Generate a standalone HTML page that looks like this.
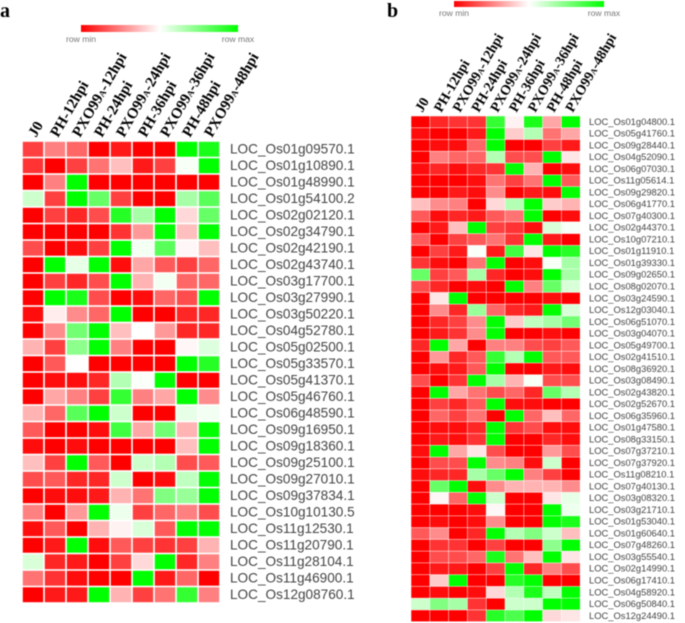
<!DOCTYPE html>
<html lang="en">
<head>
<meta charset="utf-8">
<title>Heatmaps</title>
<style>
html,body{margin:0;padding:0;background:#fff;}
body{width:685px;height:623px;overflow:hidden;}
svg{display:block;filter:blur(0.4px);}
.gene{font-family:"Liberation Sans",sans-serif;fill:#444;}
.col{font-family:"Liberation Serif",serif;font-weight:bold;fill:#000;}
.panel{font-family:"Liberation Serif",serif;font-weight:bold;fill:#000;font-size:20px;}
.leg{font-family:"Liberation Sans",sans-serif;fill:#777;font-size:8.6px;}
</style>
</head>
<body>
<svg id="chart" xmlns="http://www.w3.org/2000/svg" width="685" height="623" viewBox="0 0 685 623">
  <defs>
    <linearGradient id="legendGrad" x1="0" x2="1" y1="0" y2="0">
      <stop offset="0" stop-color="#ff0000"/>
      <stop offset="0.5" stop-color="#ffffff"/>
      <stop offset="1" stop-color="#00ff00"/>
    </linearGradient>
  </defs>
  <text class="panel" x="0" y="17">a</text>
  <text class="panel" x="387" y="17">b</text>

  <rect x="81" y="25" width="157" height="7" fill="url(#legendGrad)"/>
  <text class="leg" x="81" y="42" text-anchor="middle">row min</text>
  <text class="leg" x="238" y="42" text-anchor="middle">row max</text>

  <rect x="454" y="1" width="150" height="6" fill="url(#legendGrad)"/>
  <text class="leg" x="454" y="16" text-anchor="middle">row min</text>
  <text class="leg" x="604" y="16" text-anchor="middle">row max</text>
</svg>
<script>
const columnLabels = ["J0","PH-12hpi","PXO99|A|-12hpi","PH-24hpi","PXO99|A|-24hpi","PH-36hpi","PXO99|A|-36hpi","PH-48hpi","PXO99|A|-48hpi"];

const genesA = ["LOC_Os01g09570.1","LOC_Os01g10890.1","LOC_Os01g48990.1","LOC_Os01g54100.2","LOC_Os02g02120.1","LOC_Os02g34790.1","LOC_Os02g42190.1","LOC_Os02g43740.1","LOC_Os03g17700.1","LOC_Os03g27990.1","LOC_Os03g50220.1","LOC_Os04g52780.1","LOC_Os05g02500.1","LOC_Os05g33570.1","LOC_Os05g41370.1","LOC_Os05g46760.1","LOC_Os06g48590.1","LOC_Os09g16950.1","LOC_Os09g18360.1","LOC_Os09g25100.1","LOC_Os09g27010.1","LOC_Os09g37834.1","LOC_Os10g10130.5","LOC_Os11g12530.1","LOC_Os11g20790.1","LOC_Os11g28104.1","LOC_Os11g46900.1","LOC_Os12g08760.1"];

const valuesA = [
[-7.5,-5,-6,-10,-9,-10,-10,10,9],
[-8,-10,-7.5,-5.5,-2.5,-9,-7.5,0.3,10],
[-10,-5,10,-10,-10,-10,-10,-10,-10],
[2,-7.5,10,6,-7.5,-10,-10,3.5,6.5],
[-10,-7.5,-8.5,-7,8.5,3.5,10,-1.5,6],
[-10,-10,-10,-10,-8,-4,10,-2.5,10],
[-7,-10,-9.5,-7.5,10,0.5,6.5,-0.3,-2.5],
[-10,10,1,10,-9.5,-3.5,-6.5,-7.5,-6],
[-10,-7.5,-8.5,-7,10,-3,0.5,-6,-6],
[-10,10,9,-7,-10,-9.5,-6,-7,10],
[-9.5,-0.7,-4.5,-6,10,-10,-10,-8.5,-8.5],
[-10,-4.5,5.5,10,-2.5,0,-4,-8.5,-8.5],
[-3,-7.5,4.5,10,-5,-10,-10,-0.3,1.3],
[-10,-6.5,0,-10,-10,-10,-10,10,8.5],
[-10,-9.5,-9.5,-8.5,3,0.2,10,-10,-10],
[-10,-3.5,-5,-7.5,8,-5,-3.5,10,-4.5],
[-3,-6,6.5,10,2,-10,-10,1,0.5],
[-6.5,-10,-10,-9.5,7.5,-3.5,5.5,-3,10],
[-9.5,-10,-9.5,-10,-10,-10,-10,-2.5,10],
[-2.5,-7.5,10,-6.5,-10,2,3,-7,-6.5],
[-7,-6.5,-8.5,-8.5,2,-10,-9.5,2.5,10],
[-10,-9.5,-9.5,-9,-3,-5.5,5,4,10],
[-5,-10,-4,10,0.7,-7.5,-6,-5,-7],
[-9.5,-6.5,-10,-3,-0.5,1.5,-6.5,10,10],
[-10,-9,10,-9.5,-6.5,-7.5,-8,-7.5,-3],
[1.5,-8.5,-9,-10,-7.5,-1.5,10,-8.5,-5],
[-5.5,-8,-9.5,-10,-10,10,-9,-6,-10],
[-10,-9,-9,10,-3,-7.5,-5.5,8,-5]
];

const genesB = ["LOC_Os01g04800.1","LOC_Os05g41760.1","LOC_Os09g28440.1","LOC_Os04g52090.1","LOC_Os06g07030.1","LOC_Os11g05614.1","LOC_Os09g29820.1","LOC_Os06g41770.1","LOC_Os07g40300.1","LOC_Os02g44370.1","LOC_Os10g07210.1","LOC_Os01g11910.1","LOC_Os01g39330.1","LOC_Os09g02650.1","LOC_Os08g02070.1","LOC_Os03g24590.1","LOC_Os12g03040.1","LOC_Os06g51070.1","LOC_Os03g04070.1","LOC_Os05g49700.1","LOC_Os02g41510.1","LOC_Os08g36920.1","LOC_Os03g08490.1","LOC_Os02g43820.1","LOC_Os02g52670.1","LOC_Os06g35960.1","LOC_Os01g47580.1","LOC_Os08g33150.1","LOC_Os07g37210.1","LOC_Os07g37920.1","LOC_Os11g08210.1","LOC_Os07g40130.1","LOC_Os03g08320.1","LOC_Os03g21710.1","LOC_Os01g53040.1","LOC_Os01g60640.1","LOC_Os07g48260.1","LOC_Os03g55540.1","LOC_Os02g14990.1","LOC_Os06g17410.1","LOC_Os04g58920.1","LOC_Os06g50840.1","LOC_Os12g24490.1"];

const valuesB = [
[-10,-8.5,-8,-8,8,-0.5,9,-3.5,10],
[-9.5,-10,-10,-9,10,-2,3,-5.5,-3.5],
[-10,-9.5,-9.5,-6,10,-10,-10,-7.5,-9],
[-10,-5,-6,-6,3,-7,-7,10,-1],
[-9.5,-8.5,-9.5,-8.5,-8,10,-3,-10,-9.5],
[-10,-10,-10,-9.5,-5.5,-7.5,-5.5,10,-6.5],
[-10,-10,-9,-9.5,-4.5,-10,-9,-9.5,10],
[-2.5,-4.5,-5,-10,-1.5,3,10,-2,-3],
[-6.5,-9.5,-8.5,-9,-6.5,-5.5,10,-10,-9.5],
[-10,-9,-2.5,10,-7.5,-8,-9.5,1.5,0.3],
[-6.5,-10,-7.5,-6.5,-5.5,-8,10,-9,-10],
[-10,-7.5,-9,0.2,-9,7.5,-1,10,8.5],
[-8,-9.5,-10,-5.5,10,-10,-9.5,0.3,3.5],
[6,-7.5,-6.5,3.5,-8.5,-10,-9.5,10,3.5],
[-7,-8.5,-10,-9.5,-10,10,-5,6,1.5],
[-10,-1,10,-10,-10,-10,-10,-9.5,-10],
[-10,-4.5,-8.5,4,-6,-8.5,-9,10,1.5],
[-10,-8.5,-7.5,-4.5,10,-2,2.5,3.5,5.5],
[-10,-9,-8,-4.5,10,-10,-10,-9.5,-10],
[-8.5,10,-3.5,-10,-5,-5,-7,-7.5,-6.5],
[-10,-4,-8.5,-6.5,8,3,10,-6.5,-6.5],
[-10,-9.5,-9,-6.5,10,-10,-10,-9,-9.5],
[-7,-10,-8,10,3.5,-3,0.3,-7,-7],
[-10,10,-3.5,-5.5,-7,-6,-8.5,6,3],
[-10,-7.5,-8.5,-6.5,10,-9.5,-9.5,-10,-10],
[-10,-6,-7.5,-5.5,-10,10,-6,-2.5,-6],
[-10,-9.5,-9.5,-8.5,10,-8,-7,-9.5,-9.5],
[-10,-9,-9.5,-8,10,-10,-10,-8.5,-9.5],
[-9.5,10,-3.5,-1,-7,-10,-10,-4,-7],
[-10,-7,-7,10,-4.5,-5,-9.5,2,-10],
[-9.5,-8.5,-8.5,3.5,6,10,-5,-7.5,-10],
[-10,6,10,-9.5,-4.5,-3,-3,-3,-4.5],
[-10,-0.3,-6,10,2,-10,-10,-1,1],
[-10,-10,-10,-9.5,-0.3,-10,-10,10,0.7],
[-10,-9.5,-10,-9.5,-4.5,-10,-10,10,9],
[-6.5,-4.5,-10,-8.5,10,3,5,2,-2.5],
[-10,-8,-8,-10,-7.5,-10,-10,4.5,10],
[-10,-7,-7,-6,9,-5.5,-2.5,10,-1],
[-10,-9,-9,-10,-7.5,10,-8.5,-5,-7],
[-10,-2,10,-10,-10,8.5,10,-10,-10],
[-10,-9.5,-10,-9.5,-1.5,3,9,2.5,10],
[2,5,3.5,-8,-10,2,2,10,10],
[-10,-10,-10,-8,8.5,7,10,-1.5,-1]
];

const SVG_NS = "http://www.w3.org/2000/svg";
const svg = document.getElementById("chart");

function colorScale(v){
  const t = Math.max(-1, Math.min(1, v / 10));
  if (t < 0) {
    const c = Math.round(255 * (1 + t));
    return "rgb(255," + c + "," + c + ")";
  }
  const c = Math.round(255 * (1 - t));
  return "rgb(" + c + ",255," + c + ")";
}

function drawHeatmap(opt, genes, values, cols){
  const xScale = function(i){ return opt.x0 + i * opt.cw; };
  const yScale = function(r){ return opt.y0 + r * opt.ch; };

  const group = document.createElementNS(SVG_NS, "g");
  
  
  svg.appendChild(group);

  values.forEach(function(row, r){
    row.forEach(function(v, c){
      const cell = document.createElementNS(SVG_NS, "rect");
      
      
      cell.setAttribute("x", xScale(c) + opt.gap / 2);
      cell.setAttribute("y", yScale(r) + opt.gap / 2);
      cell.setAttribute("width", opt.cw - opt.gap);
      cell.setAttribute("height", opt.ch - opt.gap);
      cell.setAttribute("fill", colorScale(v));
      group.appendChild(cell);
    });
  });

  genes.forEach(function(g, r){
    const t = document.createElementNS(SVG_NS, "text");
    
    
    t.setAttribute("class", "gene");
    t.setAttribute("x", opt.labelX);
    t.setAttribute("y", yScale(r) + opt.ch / 2 + opt.geneFont * 0.36 + opt.geneDy);
    t.setAttribute("font-size", opt.geneFont);
    t.textContent = g;
    svg.appendChild(t);
  });

  cols.forEach(function(label, c){
    const t = document.createElementNS(SVG_NS, "text");
    
    
    t.setAttribute("class", "col");
    t.setAttribute("font-size", opt.colFont);
    const bx = xScale(c) + opt.cw / 2 + opt.colDx;
    t.setAttribute("transform", "translate(" + bx + "," + opt.colY + ") rotate(-60)");
    label.split("|").forEach(function(part, i){
      const s = document.createElementNS(SVG_NS, "tspan");
      if (i === 1) { s.setAttribute("font-size", opt.colFont * 0.6); }
      s.textContent = part;
      t.appendChild(s);
    });
    svg.appendChild(t);
  });
}

drawHeatmap({name:"panel-a", x0:22, y0:141, cw:22, ch:16.5, gap:1.6, labelX:230, geneFont:13.6, geneDy:-0.8, colFont:15, colDx:3, colY:138}, genesA, valuesA, columnLabels);
drawHeatmap({name:"panel-b", x0:411, y0:116, cw:18.8, ch:11.76, gap:0.5, labelX:589, geneFont:9.4, geneDy:-0.4, colFont:14, colDx:2, colY:113}, genesB, valuesB, columnLabels);
</script>
</body>
</html>
